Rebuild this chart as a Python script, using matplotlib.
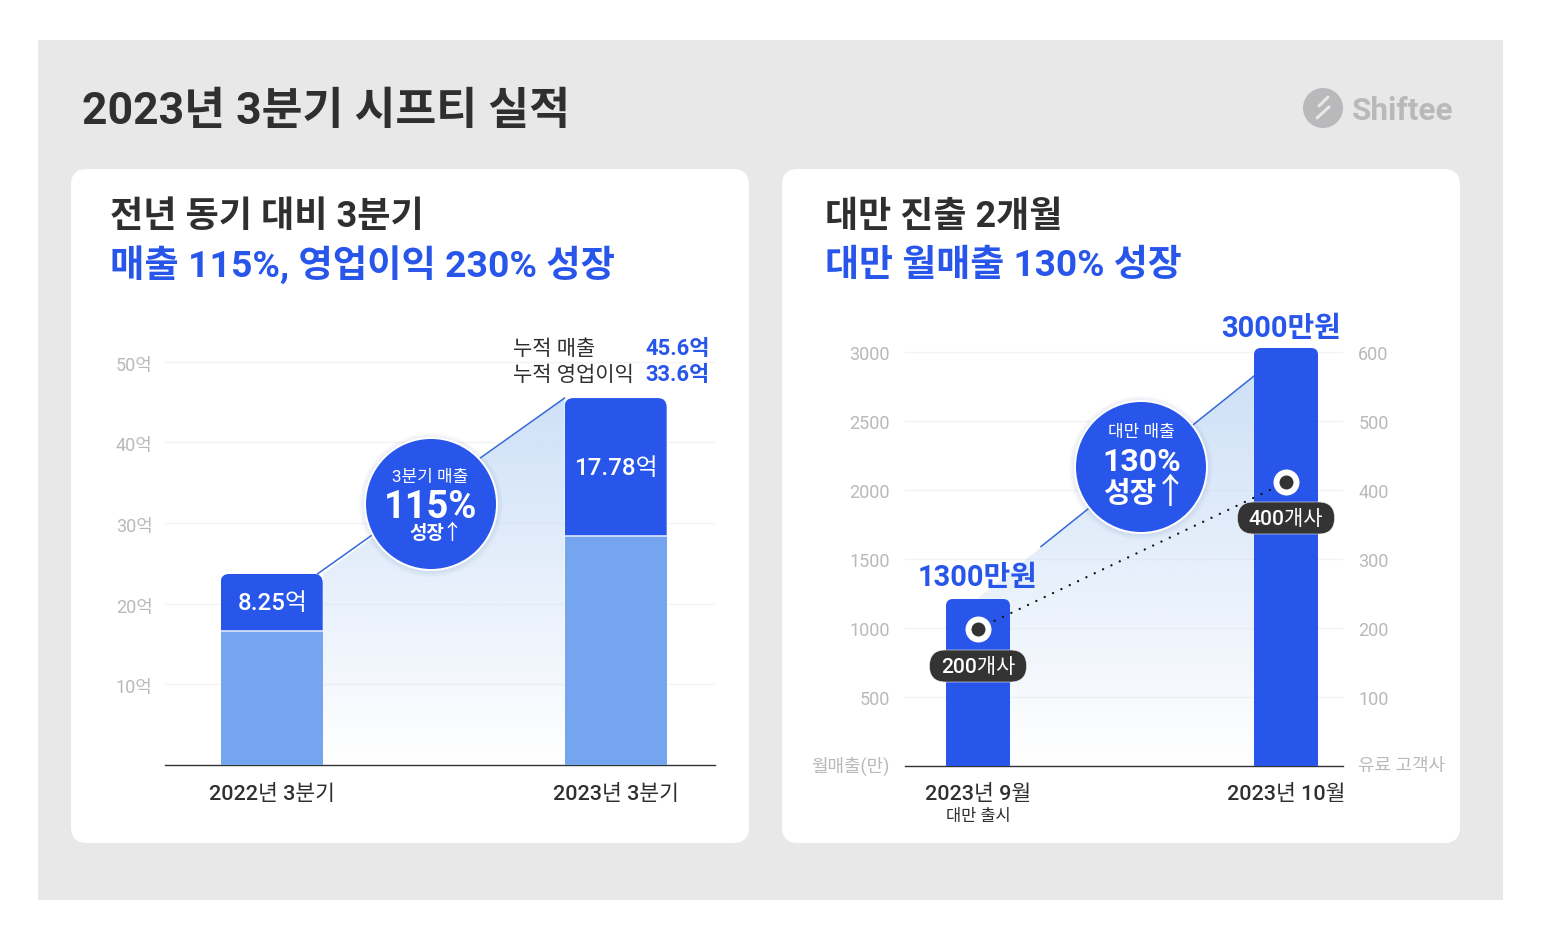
import numpy as np
import matplotlib
matplotlib.use("Agg")
import matplotlib.pyplot as plt
from matplotlib.patches import Circle, FancyBboxPatch, PathPatch, Rectangle
from matplotlib.path import Path
from matplotlib.transforms import ScaledTranslation

plt.rcParams['font.family'] = ['Roboto', 'Noto Sans CJK KR', 'DejaVu Sans']

# left chart (억)
quarters = ['2022년 3분기', '2023년 3분기']
lower_vals = [16.6, 28.4]
upper_vals = [7.1, 17.1]
upper_labels = ['8.25억', '17.78억']
left_ticks = [10, 20, 30, 40, 50]
left_ticklabels = ['10억', '20억', '30억', '40억', '50억']

# right chart (만원 / 고객사)
months = ['2023년 9월', '2023년 10월']
sales_vals = [1210, 3029]
customer_vals = [199, 411]
sales_ticks = [0, 500, 1000, 1500, 2000, 2500, 3000]
sales_ticklabels = ['월매출(만)', '500', '1000', '1500', '2000', '2500', '3000']
cust_ticks = [0, 100, 200, 300, 400, 500, 600]
cust_ticklabels = ['유료 고객사', '100', '200', '300', '400', '500', '600']
area_x = [0.0, 0.896]
area_y = [1217, 2826]
trend_x = [0.2045, 0.896]
trend_y = [1590, 2826]

BLUE = '#2855EA'
LIGHT = '#75A5EE'
DARK = '#2F2F2F'
TICK = '#B9B9B9'
W, H = 1542, 936


def px(size):
    return size * 0.72


def ax_at(x0, x1, ytop, ybot):
    return fig.add_axes([x0 / W, 1 - ybot / H, (x1 - x0) / W, (ybot - ytop) / H])


def gradient(ax, poly_x, poly_y, ymax):
    poly = PathPatch(Path(list(zip(poly_x, poly_y)) + [(poly_x[0], poly_y[0])]),
                     transform=ax.transData, fc='none', ec='none')
    ax.add_patch(poly)
    g = np.zeros((256, 1, 4))
    g[..., 0], g[..., 1], g[..., 2] = 0.80, 0.875, 0.97
    g[..., 3] = np.linspace(0.95, 0, 256).reshape(-1, 1)
    im = ax.imshow(g, extent=[min(poly_x), max(poly_x), 0, ymax], aspect='auto', zorder=1, origin='upper')
    im.set_clip_path(poly)


def round_top(ax, bar, r):
    xl, yl = ax.get_xlim(), ax.get_ylim()
    box = ax.get_position()
    rx = r * (xl[1] - xl[0]) / (box.width * W)
    ry = r * (yl[1] - yl[0]) / (box.height * H)
    x0, x1 = bar.get_x(), bar.get_x() + bar.get_width()
    y0, y1 = bar.get_y(), bar.get_y() + bar.get_height()
    verts = [(x0, y0), (x0, y1 - ry), (x0, y1), (x0 + rx, y1), (x1 - rx, y1), (x1, y1), (x1, y1 - ry), (x1, y0), (x0, y0)]
    codes = [Path.MOVETO, Path.LINETO, Path.CURVE3, Path.CURVE3, Path.LINETO, Path.CURVE3, Path.CURVE3, Path.LINETO, Path.CLOSEPOLY]
    bar.set_clip_path(PathPatch(Path(verts, codes), transform=ax.transData))


def style(ax):
    for s in ['top', 'left', 'right']:
        ax.spines[s].set_visible(False)
    ax.spines['bottom'].set_color('#333333')
    ax.spines['bottom'].set_linewidth(1)
    ax.set_facecolor('none')


def nudge(labels, dy):
    # move tick labels down by dy pixels
    off = ScaledTranslation(0, -dy / 100, fig.dpi_scale_trans)
    for t in labels:
        t.set_transform(t.get_transform() + off)


fig = plt.figure(figsize=(W / 100, H / 100), dpi=100, facecolor='white')

# background in pixel coordinates
bg = fig.add_axes([0, 0, 1, 1], zorder=0)
bg.set_xlim(0, W)
bg.set_ylim(H, 0)
bg.axis('off')
bg.add_patch(Rectangle((38, 40), 1465, 860, fc='#E8E8E8', ec='none'))
for x0 in [71, 782]:
    w = 678
    bg.add_patch(FancyBboxPatch((x0 + 16, 169 + 16), w - 32, 674 - 32, boxstyle='round,pad=16,rounding_size=16',
                                fc='white', ec='none'))

# left chart
ax1 = ax_at(165, 715, 340, 765)
style(ax1)
w1 = 0.297
totals = [a + b for a, b in zip(lower_vals, upper_vals)]
gradient(ax1, [w1 / 2, 1 - w1 / 2, 1 - w1 / 2, w1 / 2], [totals[0], totals[1], 0, 0], totals[1])
ax1.set_xlim(-0.31, 1.289)
ax1.set_ylim(0, 52.7)
ax1.plot([w1 / 2 - 0.015, 1 - w1 / 2], [totals[0], totals[1]], color='#3468DC', lw=1.1, zorder=2)
ax1.bar([0, 1], lower_vals, width=w1, color=LIGHT, zorder=3)
bars1 = ax1.bar([0, 1], upper_vals, width=w1, bottom=lower_vals, color=BLUE, zorder=3)
ax1.hlines(lower_vals, [-w1 / 2, 1 - w1 / 2], [w1 / 2, 1 + w1 / 2], color='#DCE7FA', lw=1.2, zorder=4)
for t in ax1.bar_label(bars1, labels=upper_labels, label_type='center', color='white', fontsize=px(24), fontweight='medium', zorder=5):
    t.xyann = (0.5, -1)
for b in bars1:
    round_top(ax1, b, 9)
ax1.set_yticks(left_ticks, left_ticklabels)
ax1.set_xticks([0, 1], quarters)
ax1.tick_params(axis='y', length=0, pad=9, labelsize=px(18), labelcolor=TICK)
ax1.tick_params(axis='x', length=0, pad=14, labelsize=px(21.5), labelcolor=DARK)
for t in ax1.get_xticklabels():
    t.set_fontweight('medium')
ax1.grid(axis='y', color='#F3F3F3', lw=1, zorder=0)
ax1.set_axisbelow(True)
nudge(ax1.get_yticklabels(), 2)

# right chart
ax2 = ax_at(905, 1343, 340, 766)
style(ax2)
w2 = 0.208
gradient(ax2, [area_x[0], area_x[1], area_x[1], area_x[0]], [area_y[0], area_y[1], 0, 0], area_y[1])
ax2.set_xlim(-0.237, 1.185)
ax2.set_ylim(0, 3087)
ax2.plot(trend_x, trend_y, color='#3468DC', lw=1.1, zorder=2)
bars2 = ax2.bar([0, 1], sales_vals, width=w2, color=BLUE, zorder=3)
for b in bars2:
    round_top(ax2, b, 7)
ax2.set_yticks(sales_ticks, sales_ticklabels)
ax2.set_xticks([0, 1], months)
ax2.tick_params(axis='y', length=0, pad=11, labelsize=px(18), labelcolor=TICK)
ax2.tick_params(axis='x', length=0, pad=13, labelsize=px(21.5), labelcolor=DARK)
for t in ax2.get_xticklabels():
    t.set_fontweight('medium')
ax2.grid(axis='y', color='#F3F3F3', lw=1, zorder=0)
ax2.set_axisbelow(True)
nudge(ax2.get_yticklabels()[1:], 1)
nudge(ax2.get_yticklabels()[:1], -2)

ax3 = ax2.twinx()
style(ax3)
ax3.spines['bottom'].set_visible(False)
ax3.set_ylim(0, 3087 / 5)
ax3.set_yticks(cust_ticks, cust_ticklabels)
ax3.tick_params(axis='y', length=0, pad=11, labelsize=px(18), labelcolor=TICK)
nudge(ax3.get_yticklabels()[1:], 1)
nudge(ax3.get_yticklabels()[:1], -2)
ax3.plot([0, 1], customer_vals, color='#111111', lw=1.7, ls=(0, (0.01, 3.9)), dash_capstyle='round', zorder=3)
ax3.plot([0, 1], customer_vals, ls='none', marker='o', ms=px(26), mfc='white', mec='none', zorder=4)
ax3.plot([0, 1], customer_vals, ls='none', marker='o', ms=px(14), mfc='#333333', mec='none', zorder=5)

# text and badges on top, pixel coordinates
fg = fig.add_axes([0, 0, 1, 1], zorder=5)
fg.set_xlim(0, W)
fg.set_ylim(H, 0)
fg.axis('off')
fg.patch.set_alpha(0)


def txt(x, y, s, size, color=DARK, weight='normal', ha='left'):
    fg.text(x, y + size * 0.09, s, fontsize=px(size), color=color, fontweight=weight, ha=ha, va='center')


txt(82, 108, '2023년 3분기 시프티 실적', 44.5, weight='bold')
txt(110, 214, '전년 동기 대비 3분기', 36.2, weight='bold')
txt(110, 262.5, '매출 115%, 영업이익 230% 성장', 37.4, color=BLUE, weight='bold')
txt(825, 214, '대만 진출 2개월', 36, weight='bold')
txt(825, 263, '대만 월매출 130% 성장', 37, color=BLUE, weight='bold')

txt(513, 347, '누적 매출', 21)
txt(513, 373, '누적 영업이익', 21)
txt(710, 347, '45.6억', 22, color=BLUE, weight='bold', ha='right')
txt(710, 373, '33.6억', 22, color=BLUE, weight='bold', ha='right')

txt(978, 575, '1300만원', 29, color=BLUE, weight='bold', ha='center')
txt(1281, 326, '3000만원', 29, color=BLUE, weight='bold', ha='center')
txt(978, 815, '대만 출시', 16.5, ha='center')

# circles
for cx, cy in [(431, 504), (1141, 467)]:
    for k in range(5, 0, -1):
        fg.add_patch(Circle((cx, cy + 1), 67 + k, fc='#5577AA', ec='none', alpha=0.025))
    fg.add_patch(Circle((cx, cy), 67, fc='white', ec='none'))
    fg.add_patch(Circle((cx, cy), 65, fc=BLUE, ec='none'))
txt(430, 476, '3분기 매출', 17, color='white', ha='center')
txt(431, 504, '115%', 38, color='white', weight='bold', ha='center')
txt(409, 532, '성장', 19, color='white', weight='bold')
txt(452, 531, '↑', 21, color='white', ha='center')
txt(1141, 431, '대만 매출', 17, color='white', ha='center')
txt(1142, 459, '130%', 32, color='white', weight='bold', ha='center')
txt(1103, 491, '성장', 29, color='white', weight='bold')
txt(1170, 490, '↑', 35, color='white', ha='center')

# customer pills
for cx, cy, s in [(978, 666, '200개사'), (1286, 518, '400개사')]:
    fg.add_patch(FancyBboxPatch((cx - 48.5 + 16, cy - 16 + 16), 97 - 32, 0, boxstyle='round,pad=16,rounding_size=16',
                                fc='#333333', ec='#EEEEEE', lw=0.4))
    txt(cx, cy, s, 21, color='white', weight='medium', ha='center')

# logo
fg.add_patch(Circle((1323, 108), 20, fc='#B9B9BB', ec='none'))
fg.plot([1328, 1319], [97, 106], color='#E8E8E8', lw=2.2, solid_capstyle='round')
fg.plot([1329, 1317], [107, 118], color='#E8E8E8', lw=2.2, solid_capstyle='round')
txt(1352, 108, 'Shiftee', 31.5, color='#B9B9BB', weight='bold')

fig.savefig('out.png', dpi=100)
